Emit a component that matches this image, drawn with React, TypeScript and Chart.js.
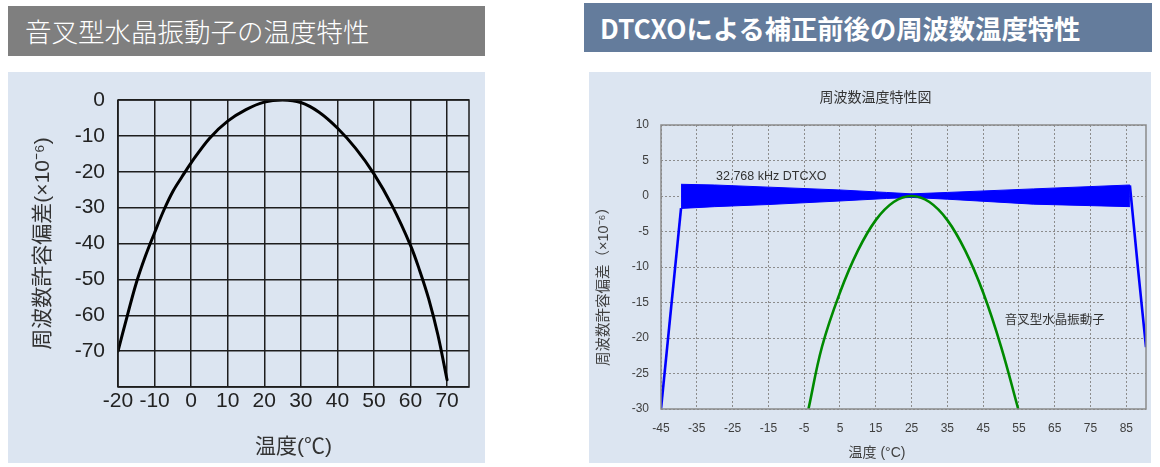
import React, { useEffect, useRef } from "react";
import { Chart, registerables } from "chart.js";

Chart.register(...registerables);

// ---------- Left chart: 音叉型水晶振動子の温度特性 ----------
const LEFT_X_TICKS = [-20, -10, 0, 10, 20, 30, 40, 50, 60, 70];
const LEFT_Y_TICKS = [0, -10, -20, -30, -40, -50, -60, -70, -80];
const LEFT_TEMPS = [-20, -17.5, -15, -12.5, -10, -7.5, -5, -2.5, 0, 5, 10, 15, 20, 25, 30, 35, 40, 45, 50, 55, 60, 62.5, 65, 67.5, 70];
const LEFT_DEV = [-70, -60.3, -51, -43.5, -37, -30.8, -25.5, -21.4, -17.5, -10.7, -5.9, -2.7, -0.6, 0, -0.7, -3.4, -7.8, -13.5, -20.6, -29.5, -40.5, -47.5, -55.5, -65.5, -78];

// ---------- Right chart: DTCXOによる補正前後の周波数温度特性 ----------
const RIGHT_X_TICKS = [-45, -35, -25, -15, -5, 5, 15, 25, 35, 45, 55, 65, 75, 85];
const RIGHT_Y_TICKS = [-30, -25, -20, -15, -10, -5, 0, 5, 10];
// 音叉型水晶振動子 (uncompensated)
const FORK_T = [-3.8, 0, 5, 10, 15, 20, 25, 30, 35, 40, 45, 50, 54.8];
const FORK_V = [-30, -21.2, -13.6, -7.7, -3.4, -0.85, 0, -0.85, -3.4, -7.7, -13.6, -21.2, -30];
// 32.768 kHz DTCXO: steep edges outside the compensated range
const DTCXO_RISE_T = [-45, -39.4];
const DTCXO_RISE_V = [-30, -1.7];
const DTCXO_FALL_T = [86, 88.3, 90.5];
const DTCXO_FALL_V = [1.5, -10.4, -21.3];
// 32.768 kHz DTCXO: band of residual deviation (upper / lower envelope)
const BAND_T = [-39.4, -30, -15, 5, 18, 25, 35, 59, 86];
const BAND_UPPER = [1.65, 1.55, 1.25, 0.85, 0.5, 0.3, 0.5, 1.0, 1.55];
const BAND_LOWER = [-1.75, -1.5, -1.2, -0.7, -0.35, -0.2, -0.45, -1.15, -1.5];
// in-plot labels
const LABEL_TEXTS = ["32.768 kHz DTCXO", "音叉型水晶振動子"];
const LABEL_T = [-14.2, 65];
const LABEL_V = [2.8, -17.6];

const FONT = "'Liberation Sans', 'Noto Sans CJK JP', sans-serif";

const zip = (xs: number[], ys: number[]) => xs.map((x, i) => ({ x, y: ys[i] }));

const framePlugin = {
  id: "frame",
  afterDatasetsDraw(chart: any, _args: any, opts: any) {
    const { ctx, chartArea: a } = chart;
    ctx.save();
    ctx.strokeStyle = opts.color;
    ctx.lineWidth = opts.width;
    ctx.setLineDash([]);
    ctx.strokeRect(a.left, a.top, a.right - a.left, a.bottom - a.top);
    ctx.restore();
  },
};

const rightTextPlugin = {
  id: "rightText",
  afterDraw(chart: any) {
    const { ctx } = chart;
    const xs = chart.scales.x;
    const ys = chart.scales.y;
    ctx.save();
    ctx.fillStyle = "#333333";
    ctx.textAlign = "center";
    ctx.textBaseline = "middle";
    ctx.font = `12.5px ${FONT}`;
    LABEL_TEXTS.forEach((t, i) => {
      ctx.fillText(t, xs.getPixelForValue(LABEL_T[i]), ys.getPixelForValue(LABEL_V[i]));
    });
    ctx.font = `14px ${FONT}`;
    ctx.fillStyle = "#404040";
    ctx.fillText("温度 (°C)", 288, 381);
    ctx.translate(14.5, 211);
    ctx.rotate(-Math.PI / 2);
    ctx.font = `14.5px ${FONT}`;
    ctx.fillText("周波数許容偏差（×10⁻⁶）", 0, 0);
    ctx.restore();
  },
};

function LeftChart() {
  const ref = useRef<HTMLCanvasElement>(null);
  useEffect(() => {
    const chart = new Chart(ref.current as HTMLCanvasElement, {
      type: "line",
      data: {
        datasets: [
          {
            data: zip(LEFT_TEMPS, LEFT_DEV),
            borderColor: "#000000",
            borderWidth: 3,
            pointRadius: 0,
            tension: 0.35,
            borderCapStyle: "round",
            borderJoinStyle: "round",
          },
        ],
      },
      options: {
        animation: false,
        responsive: false,
        devicePixelRatio: 1,
        layout: { padding: { top: 28, right: 16, left: 0, bottom: 0 } },
        plugins: {
          legend: { display: false },
          tooltip: { enabled: false },
          frame: { color: "#1e1e1e", width: 1.5 },
        } as any,
        scales: {
          x: {
            type: "linear",
            min: -20,
            max: 76,
            afterBuildTicks: (s: any) => {
              s.ticks = LEFT_X_TICKS.map((v) => ({ value: v }));
            },
            afterFit: (s: any) => {
              s.height = 76;
            },
            grid: { color: "#1e1e1e", lineWidth: 1.5, drawTicks: false },
            border: { display: false },
            ticks: {
              autoSkip: false,
              maxRotation: 0,
              padding: 2,
              color: "#222222",
              font: { family: FONT, size: 21 },
              callback: (v: any) => String(v),
            },
            title: {
              display: true,
              text: "温度(℃)",
              color: "#333333",
              font: { family: FONT, size: 21 },
              padding: { top: 0, bottom: 3 },
            },
          },
          y: {
            type: "linear",
            min: -80,
            max: 0,
            afterBuildTicks: (s: any) => {
              s.ticks = LEFT_Y_TICKS.map((v) => ({ value: v }));
            },
            afterFit: (s: any) => {
              s.width = 110;
            },
            grid: { color: "#1e1e1e", lineWidth: 1.5, drawTicks: false },
            border: { display: false },
            ticks: {
              autoSkip: false,
              padding: 13,
              color: "#222222",
              font: { family: FONT, size: 21 },
              callback: (v: any) => (v === -80 ? "" : String(v)),
            },
            title: {
              display: true,
              text: "周波数許容偏差(×10⁻⁶)",
              color: "#333333",
              font: { family: FONT, size: 21 },
              padding: { top: 23, bottom: 0 },
            },
          },
        },
      } as any,
      plugins: [framePlugin],
    });
    return () => chart.destroy();
  }, []);
  return <canvas ref={ref} width={477} height={391} style={{ display: "block" }} />;
}

function RightChart() {
  const ref = useRef<HTMLCanvasElement>(null);
  useEffect(() => {
    const blue = "#0000ff";
    const green = "#008a00";
    const chart = new Chart(ref.current as HTMLCanvasElement, {
      type: "line",
      data: {
        datasets: [
          {
            label: "音叉型水晶振動子",
            data: zip(FORK_T, FORK_V),
            borderColor: green,
            borderWidth: 2.6,
            pointRadius: 0,
            tension: 0.4,
          },
          {
            label: "DTCXO rise",
            data: zip(DTCXO_RISE_T, DTCXO_RISE_V),
            borderColor: blue,
            borderWidth: 2.6,
            pointRadius: 0,
          },
          {
            label: "DTCXO fall",
            data: zip(DTCXO_FALL_T, DTCXO_FALL_V),
            borderColor: blue,
            borderWidth: 2.6,
            pointRadius: 0,
          },
          {
            label: "DTCXO upper",
            data: zip(BAND_T, BAND_UPPER),
            borderColor: blue,
            borderWidth: 1,
            pointRadius: 0,
            fill: "+1",
            backgroundColor: blue,
          },
          {
            label: "DTCXO lower",
            data: zip(BAND_T, BAND_LOWER),
            borderColor: blue,
            borderWidth: 1,
            pointRadius: 0,
          },
        ],
      },
      options: {
        animation: false,
        responsive: false,
        devicePixelRatio: 1,
        layout: { padding: { top: 0, right: 5, left: 16, bottom: 0 } },
        plugins: {
          legend: { display: false },
          tooltip: { enabled: false },
          title: {
            display: true,
            text: "周波数温度特性図",
            color: "#333333",
            font: { family: FONT, size: 14, weight: "normal" },
            padding: { top: 17.6, bottom: 18.6 },
          },
          frame: { color: "#8a8a8a", width: 1.5 },
        } as any,
        scales: {
          x: {
            type: "linear",
            min: -45,
            max: 90.5,
            afterBuildTicks: (s: any) => {
              s.ticks = RIGHT_X_TICKS.map((v) => ({ value: v }));
            },
            afterFit: (s: any) => {
              s.height = 54;
            },
            grid: { color: "#8c8c8c", lineWidth: 1, drawTicks: false },
            border: { display: false, dash: [2, 2] },
            ticks: {
              autoSkip: false,
              maxRotation: 0,
              padding: 12,
              color: "#404040",
              font: { family: FONT, size: 12 },
              callback: (v: any) => String(v),
            },
          },
          y: {
            type: "linear",
            min: -30,
            max: 10,
            afterBuildTicks: (s: any) => {
              s.ticks = RIGHT_Y_TICKS.map((v) => ({ value: v }));
            },
            afterFit: (s: any) => {
              s.width = 56;
            },
            grid: { color: "#8c8c8c", lineWidth: 1, drawTicks: false },
            border: { display: false, dash: [2, 2] },
            ticks: {
              autoSkip: false,
              padding: 12,
              color: "#404040",
              font: { family: FONT, size: 12 },
              callback: (v: any) => String(v),
            },
          },
        },
      } as any,
      plugins: [framePlugin, rightTextPlugin],
    });
    return () => chart.destroy();
  }, []);
  return <canvas ref={ref} width={562} height={391} style={{ display: "block" }} />;
}

export default function App() {
  const abs = (l: number, t: number, w: number, h: number): React.CSSProperties => ({
    position: "absolute",
    left: l,
    top: t,
    width: w,
    height: h,
  });
  return (
    <div style={{ position: "absolute", left: 0, top: 0, width: 1160, height: 467, background: "#ffffff", overflow: "hidden" }}>
      <div
        style={{
          ...abs(8, 6, 477, 50),
          background: "#7f7f7f",
          color: "#ffffff",
          fontFamily: "'Noto Sans CJK JP', sans-serif",
          fontSize: 26.5,
          lineHeight: "50px",
          paddingLeft: 17,
          boxSizing: "border-box",
          whiteSpace: "nowrap",
          fontWeight: 300,
        }}
      >
        音叉型水晶振動子の温度特性
      </div>
      <div
        style={{
          ...abs(584, 3, 568, 49),
          background: "#647c9c",
          color: "#ffffff",
          fontFamily: "'Noto Sans CJK JP', sans-serif",
          fontSize: 26.3,
          fontWeight: 700,
          lineHeight: "49px",
          paddingLeft: 16,
          boxSizing: "border-box",
          whiteSpace: "nowrap",
        }}
      >
        DTCXOによる補正前後の周波数温度特性
      </div>
      <div style={{ ...abs(8, 72, 477, 391), background: "#dce5f1" }}>
        <LeftChart />
      </div>
      <div style={{ ...abs(589, 72, 562, 391), background: "#dce5f1" }}>
        <RightChart />
      </div>
    </div>
  );
}
